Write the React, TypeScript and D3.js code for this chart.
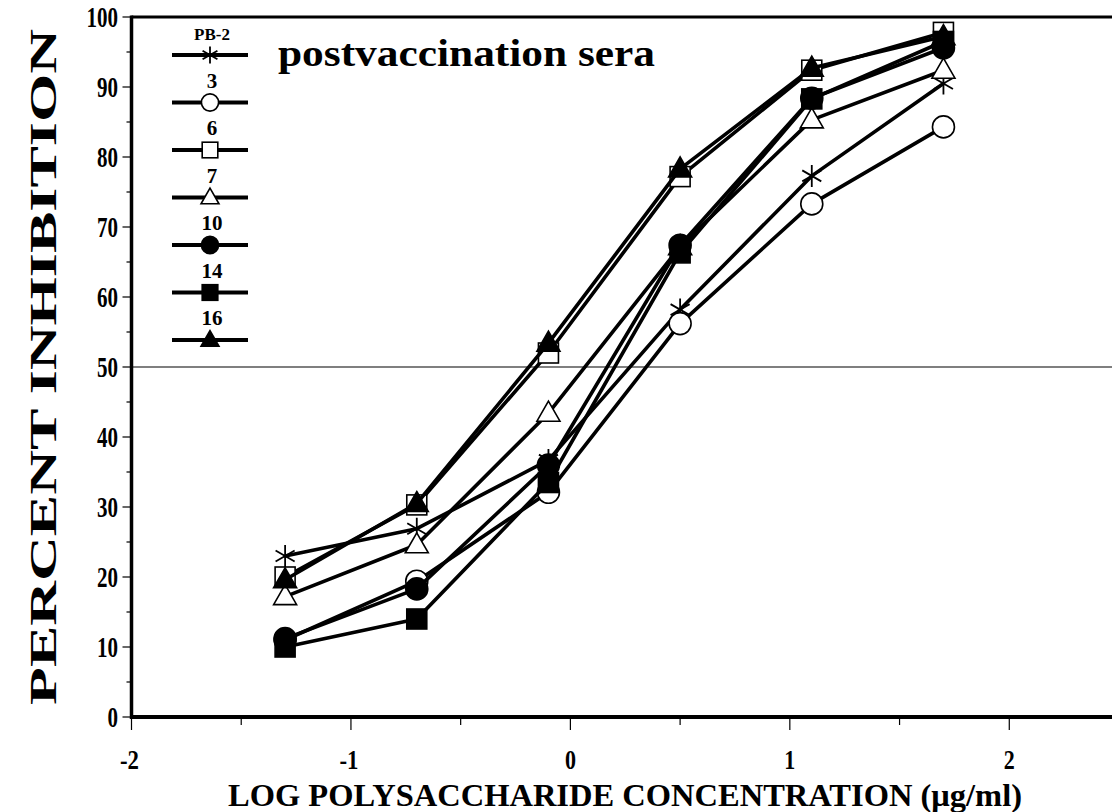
import React from 'react';
import * as d3 from 'd3';

// log concentration of each dilution
const logConc = [-1.3, -0.7, -0.1, 0.5, 1.1, 1.7];

// percent inhibition
const pb2 = [23, 26.9, 36.7, 58.2, 77.3, 90.5];
const type3 = [11, 19.4, 32.1, 56.2, 73.3, 84.3];
const type6 = [20, 30.3, 52, 77.2, 92.4, 97.8];
const type7 = [17.2, 24.6, 43.4, 67.2, 85.3, 92.4];
const type10 = [11.2, 18.3, 36, 67.4, 88.4, 95.6];
const type14 = [10, 14, 33.5, 66.3, 88.3, 96.5];
const type16 = [19.6, 30.5, 53.4, 78.3, 92.7, 97.2];

const seriesNames = ['PB-2', '3', '6', '7', '10', '14', '16'];
const seriesValues = [pb2, type3, type6, type7, type10, type14, type16];
const seriesMarkers = ['star', 'circle', 'square', 'triangle', 'dot', 'box', 'tri'];

const xTicks = [-2, -1, 0, 1, 2];
const yTicks = [0, 10, 20, 30, 40, 50, 60, 70, 80, 90, 100];

const W = 1112;
const H = 812;
const FONT = '"Liberation Serif", "DejaVu Serif", serif';

function Marker({ kind, x, y, s = 1 }: { kind: string; x: number; y: number; s?: number }) {
  const sw = 1.6;
  if (kind === 'circle' || kind === 'dot') {
    return (
      <circle cx={x} cy={y} r={11 * s}
        fill={kind === 'dot' ? '#000' : '#fff'} stroke="#000" strokeWidth={sw} />
    );
  }
  if (kind === 'square' || kind === 'box') {
    const a = 10 * s;
    return (
      <rect x={x - a} y={y - a} width={2 * a} height={2 * a}
        fill={kind === 'box' ? '#000' : '#fff'} stroke="#000" strokeWidth={sw} />
    );
  }
  if (kind === 'triangle' || kind === 'tri') {
    const w = 11.5 * s;
    const h = 20 * s;
    const p = `M${x},${y - h * 0.6}L${x + w},${y + h * 0.4}L${x - w},${y + h * 0.4}Z`;
    return <path d={p} fill={kind === 'tri' ? '#000' : '#fff'} stroke="#000" strokeWidth={sw} />;
  }
  // asterisk, vertical arm plus two diagonals
  const r = 11 * s;
  const arms = [90, 30, 150].map((deg) => {
    const a = (deg * Math.PI) / 180;
    const dx = r * Math.cos(a);
    const dy = r * Math.sin(a);
    return `M${x - dx},${y - dy}L${x + dx},${y + dy}`;
  });
  return <path d={arms.join('')} fill="none" stroke="#000" strokeWidth={1.8} />;
}

export default function App() {
  const x = d3.scaleLinear().domain([-2, 2.5]).range([131.5, 1119]);
  const y = d3.scaleLinear().domain([0, 100]).range([717, 17]);
  const line = d3
    .line<number>()
    .x((d, i) => x(logConc[i]))
    .y((d) => y(d));

  const xMinor = d3.range(-2, 2.51, 0.5);
  const yMinor = d3.range(0, 100.1, 5);

  return (
    <svg width={W} height={H} style={{ position: 'absolute', left: 0, top: 0, background: '#fff' }}>
      {/* frame */}
      <line x1={x(-2)} x2={W} y1={y(100)} y2={y(100)} stroke="#000" strokeWidth={3} />
      <line x1={x(-2)} x2={x(-2)} y1={y(100) - 1.5} y2={y(0) + 2} stroke="#000" strokeWidth={3.5} />
      <line x1={x(-2) - 1.5} x2={W} y1={y(0)} y2={y(0)} stroke="#000" strokeWidth={4} />
      <line x1={x(-2)} x2={W} y1={y(50)} y2={y(50)} stroke="#000" strokeWidth={1.2} />

      {/* y ticks */}
      {yMinor.map((v) => (
        <line key={'ym' + v} x1={x(-2) - (v % 10 === 0 ? 9 : 5)} x2={x(-2)} y1={y(v)} y2={y(v)}
          stroke="#000" strokeWidth={1.2} />
      ))}
      {yTicks.map((v) => (
        <text key={'yt' + v} x={118} y={y(v) + 10} textAnchor="end" fontFamily={FONT}
          fontWeight="bold" fontSize={29} textLength={String(v).length * 10.5}
          lengthAdjust="spacingAndGlyphs">{v}</text>
      ))}

      {/* x ticks */}
      {xMinor.map((v) => (
        <line key={'xm' + v} x1={x(v)} x2={x(v)} y1={y(0)} y2={y(0) + (Number.isInteger(v) ? 13 : 8)}
          stroke="#000" strokeWidth={1.2} />
      ))}
      {xTicks.map((v) => (
        <text key={'xt' + v} x={x(v) + (v < 0 ? -2 : 0)} y={769} textAnchor="middle" fontFamily={FONT}
          fontWeight="bold" fontSize={28} textLength={v < 0 ? 19 : 11}
          lengthAdjust="spacingAndGlyphs">{v}</text>
      ))}

      {/* axis titles */}
      <text x={625} y={806} textAnchor="middle" fontFamily={FONT} fontWeight="bold" fontSize={32}
        textLength={794} lengthAdjust="spacingAndGlyphs">
        LOG POLYSACCHARIDE CONCENTRATION (μg/ml)
      </text>
      <text transform="translate(56,367) rotate(-90)" textAnchor="middle" fontFamily={FONT}
        fontWeight="bold" fontSize={37} textLength={676} lengthAdjust="spacingAndGlyphs">
        PERCENT INHIBITION
      </text>
      <text x={278} y={66} fontFamily={FONT} fontWeight="bold" fontSize={38}
        textLength={377} lengthAdjust="spacingAndGlyphs">
        postvaccination sera
      </text>

      {/* series */}
      {seriesValues.map((vals, si) => (
        <g key={'s' + si}>
          <path d={line(vals) || ''} fill="none" stroke="#000" strokeWidth={3.6} strokeLinejoin="round" />
          {vals.map((v, i) => (
            <Marker key={i} kind={seriesMarkers[si]} x={x(logConc[i])} y={y(v)} />
          ))}
        </g>
      ))}

      {/* legend */}
      {seriesNames.map((name, i) => {
        const ly = 55 + i * 47.5;
        return (
          <g key={'lg' + name}>
            <text x={212} y={ly - 15} textAnchor="middle" fontFamily={FONT} fontWeight="bold"
              fontSize={i === 0 ? 17 : 21}>{name}</text>
            <line x1={172} x2={248} y1={ly} y2={ly} stroke="#000" strokeWidth={4} />
            <Marker kind={seriesMarkers[i]} x={210} y={ly} s={0.78} />
          </g>
        );
      })}
    </svg>
  );
}
